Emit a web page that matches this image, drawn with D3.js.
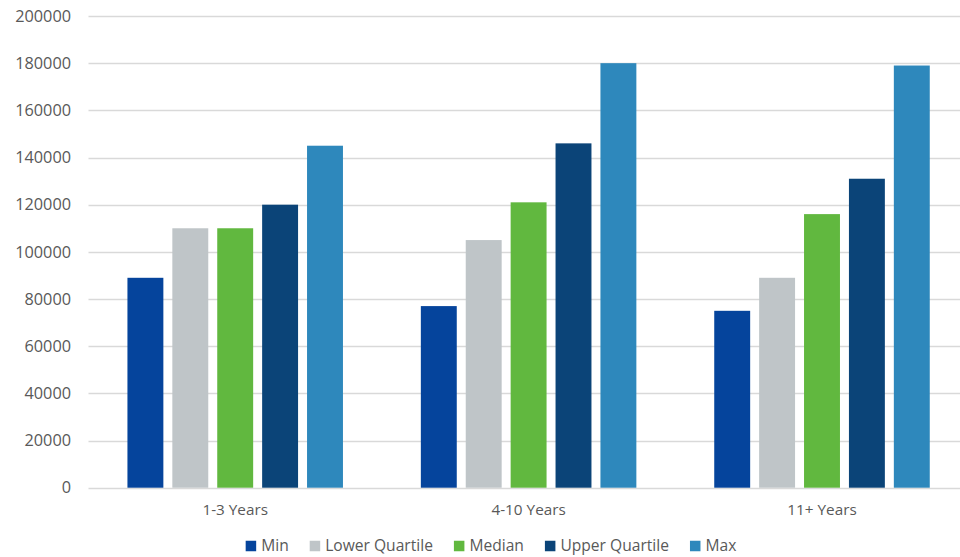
<!DOCTYPE html>
<html><head><meta charset="utf-8">
<script src="https://cdn.jsdelivr.net/npm/d3@7"></script>
<style>body{margin:0;background:#fff}svg{display:block}</style>
</head><body>
<svg id="c" width="960" height="557"></svg>
<script>
const categories = ["1-3 Years", "4-10 Years", "11+ Years"];
const seriesNames = ["Min", "Lower Quartile", "Median", "Upper Quartile", "Max"];
const minVals = [89000, 77000, 75000];
const lowerQuartileVals = [110000, 105000, 89000];
const medianVals = [110000, 121000, 116000];
const upperQuartileVals = [120000, 146000, 131000];
const maxVals = [145000, 180000, 179000];
const seriesColors = ["#05449c", "#bfc5c8", "#61b83f", "#0b4478", "#2e88bc"];
const yTicks = [0, 20000, 40000, 60000, 80000, 100000, 120000, 140000, 160000, 180000, 200000];

(function () {
const seriesVals = [minVals, lowerQuartileVals, medianVals, upperQuartileVals, maxVals];
const data = categories.map((c, i) => ({cat: c, vals: seriesNames.map((s, j) => ({s, v: seriesVals[j][i], color: seriesColors[j]}))}));

const svg = d3.select("#c");
const mLeft = 88.5, mRight = 968.7, mTop = 16, mBottom = 487.7;
const font = "'Open Sans', sans-serif";

const y = d3.scaleLinear().domain([0, 200000]).range([mBottom, mTop]);
const x0 = d3.scaleBand().domain(categories).range([mLeft, mRight]).padding(0);
const groupW = 224.5;
const x1 = d3.scaleBand().domain(seriesNames).range([0, groupW]).paddingInner(0.2).paddingOuter(0.1);

// gridlines
svg.append("g").selectAll("line").data(yTicks).join("line")
  .attr("x1", mLeft).attr("x2", 960)
  .attr("y1", d => Math.round(y(d)) + 0.5).attr("y2", d => Math.round(y(d)) + 0.5)
  .attr("stroke", "#d9d9d9").attr("stroke-width", 1.3);

// y axis labels
const yAxis = d3.axisLeft(y).tickValues(yTicks).tickSize(0).tickPadding(0).tickFormat(d3.format("d"));
const ya = svg.append("g").attr("transform", `translate(71,0)`).call(yAxis);
ya.select(".domain").remove();
ya.selectAll("text").attr("font-family", font).attr("font-size", 16.3).attr("fill", "#595959");

// bars
const groups = svg.append("g").selectAll("g").data(data).join("g")
  .attr("transform", d => `translate(${x0(d.cat) + (x0.bandwidth() - groupW) / 2},0)`);
groups.selectAll("rect").data(d => d.vals).join("rect")
  .attr("x", d => x1(d.s)).attr("width", x1.bandwidth())
  .attr("y", d => y(d.v)).attr("height", d => y(0) - y(d.v))
  .attr("fill", d => d.color);

// x axis labels
const xAxis = d3.axisBottom(x0).tickSize(0).tickPadding(0);
const xa = svg.append("g").attr("transform", `translate(0,504.5)`).call(xAxis);
xa.select(".domain").remove();
xa.selectAll("text").attr("font-family", font).attr("font-size", 15.3).attr("fill", "#595959");

// legend
const lg = svg.append("g");
const items = lg.selectAll("g").data(seriesNames).join("g");
items.append("rect").attr("width", 10.5).attr("height", 10.5).attr("y", -5.25).attr("fill", (d, i) => seriesColors[i]);
items.append("text").text(d => d).attr("x", 15.5).attr("dy", "0.35em")
  .attr("font-family", font).attr("font-size", 15.6).attr("fill", "#595959");
let xpos = 0;
const pos = [];
items.each(function() {
  const w = 15.5 + d3.select(this).select("text").node().getComputedTextLength();
  pos.push(xpos);
  xpos += w + 21;
});
const total = xpos - 21;
const startX = 491 - total / 2;
items.attr("transform", (d, i) => `translate(${startX + pos[i]},546)`);
})();
</script>
</body></html>
